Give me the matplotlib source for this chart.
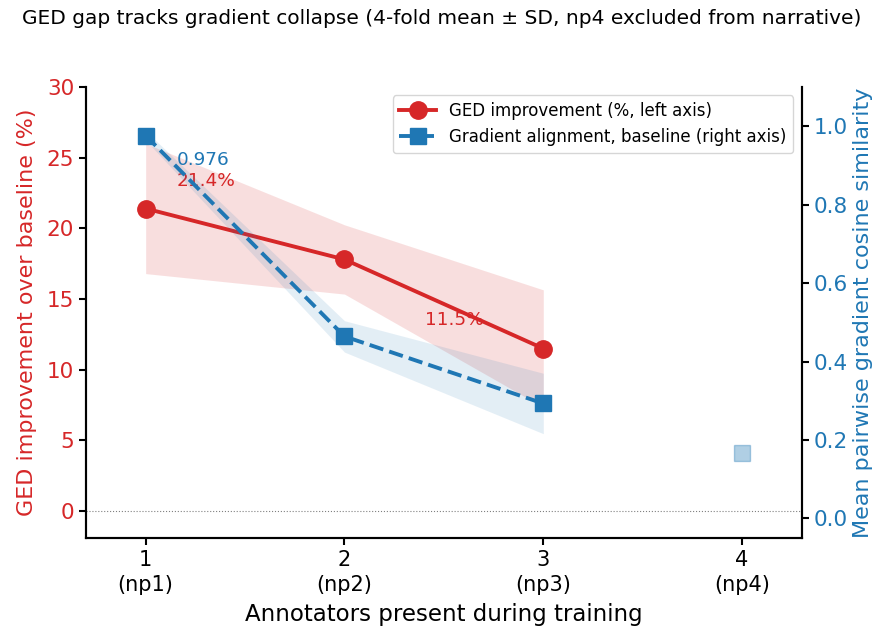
import numpy as np
import matplotlib.pyplot as plt

# data
annotators = [1, 2, 3, 4]
tick_labels = ["1\n(np1)", "2\n(np2)", "3\n(np3)", "4\n(np4)"]

ged_x = [1, 2, 3]
ged_mean = [21.4, 17.8, 11.5]
ged_sd = [4.6, 2.45, 4.15]

grad_x = [1, 2, 3]
grad_mean = [0.976, 0.464, 0.293]
grad_sd = [0.012, 0.040, 0.077]

np4_x = [4]
np4_grad = [0.167]

RED = '#d62728'
BLUE = '#1f77b4'


def main():
    fig, ax1 = plt.subplots(figsize=(8.83, 6.3), dpi=100)
    fig.subplots_adjust(left=0.0974, right=0.908, bottom=0.146, top=0.862)
    ax2 = ax1.twinx()

    gm = np.array(ged_mean)
    gs = np.array(ged_sd)
    ax1.fill_between(ged_x, gm - gs, gm + gs, color=RED, alpha=0.15, lw=0)
    ax1.plot(ged_x, gm, color=RED, lw=2.8, marker='o', ms=12.5,
             label='GED improvement (%, left axis)')
    ax1.axhline(0, color='gray', lw=0.8, ls=':')

    bm = np.array(grad_mean)
    bs = np.array(grad_sd)
    ax2.fill_between(grad_x, bm - bs, bm + bs, color=BLUE, alpha=0.12, lw=0)
    ax2.plot(grad_x, bm, color=BLUE, lw=2.8, ls='--', marker='s', ms=11.5,
             label='Gradient alignment, baseline (right axis)')
    ax2.plot(np4_x, np4_grad, ls='none', marker='s', ms=11.5, color=BLUE, alpha=0.35)

    ax2.text(1.155, 0.915, '%.3f' % grad_mean[0], color=BLUE, fontsize=13.3, va='center')
    ax1.text(1.155, 23.35, '%.1f%%' % ged_mean[0], color=RED, fontsize=13.3, va='center')
    ax1.text(2.405, 13.5, '%.1f%%' % ged_mean[2], color=RED, fontsize=13.3, va='center')

    ax1.set_xlim(0.7, 4.3)
    ax1.set_ylim(-1.9, 30)
    ax2.set_ylim(-0.05, 1.1)
    ax1.set_xticks(annotators)
    ax1.set_xticklabels(tick_labels, fontsize=15, linespacing=1.3)
    ax1.tick_params(axis='y', labelcolor=RED, labelsize=15.5)
    ax2.tick_params(axis='y', labelcolor=BLUE, labelsize=15.5)
    ax2.set_yticks([0.0, 0.2, 0.4, 0.6, 0.8, 1.0])

    ax1.set_xlabel('Annotators present during training', fontsize=16.5, labelpad=6)
    ax1.set_ylabel('GED improvement over baseline (%)', color=RED, fontsize=16, labelpad=7)
    ax2.set_ylabel('Mean pairwise gradient cosine similarity', color=BLUE, fontsize=16)

    for ax in (ax1, ax2):
        ax.spines['top'].set_visible(False)
        for s in ax.spines.values():
            s.set_linewidth(1.5)
    ax1.tick_params(width=1.5, length=5)
    ax2.tick_params(width=1.5, length=5)

    h1, l1 = ax1.get_legend_handles_labels()
    h2, l2 = ax2.get_legend_handles_labels()
    ax2.legend(h1 + h2, l1 + l2, loc='upper right', fontsize=12, handlelength=2.2)

    fig.suptitle('GED gap tracks gradient collapse (4-fold mean ± SD, np4 excluded from narrative)',
                 fontsize=14.5, y=0.985)
    fig.savefig('out.png')


if __name__ == '__main__':
    main()
